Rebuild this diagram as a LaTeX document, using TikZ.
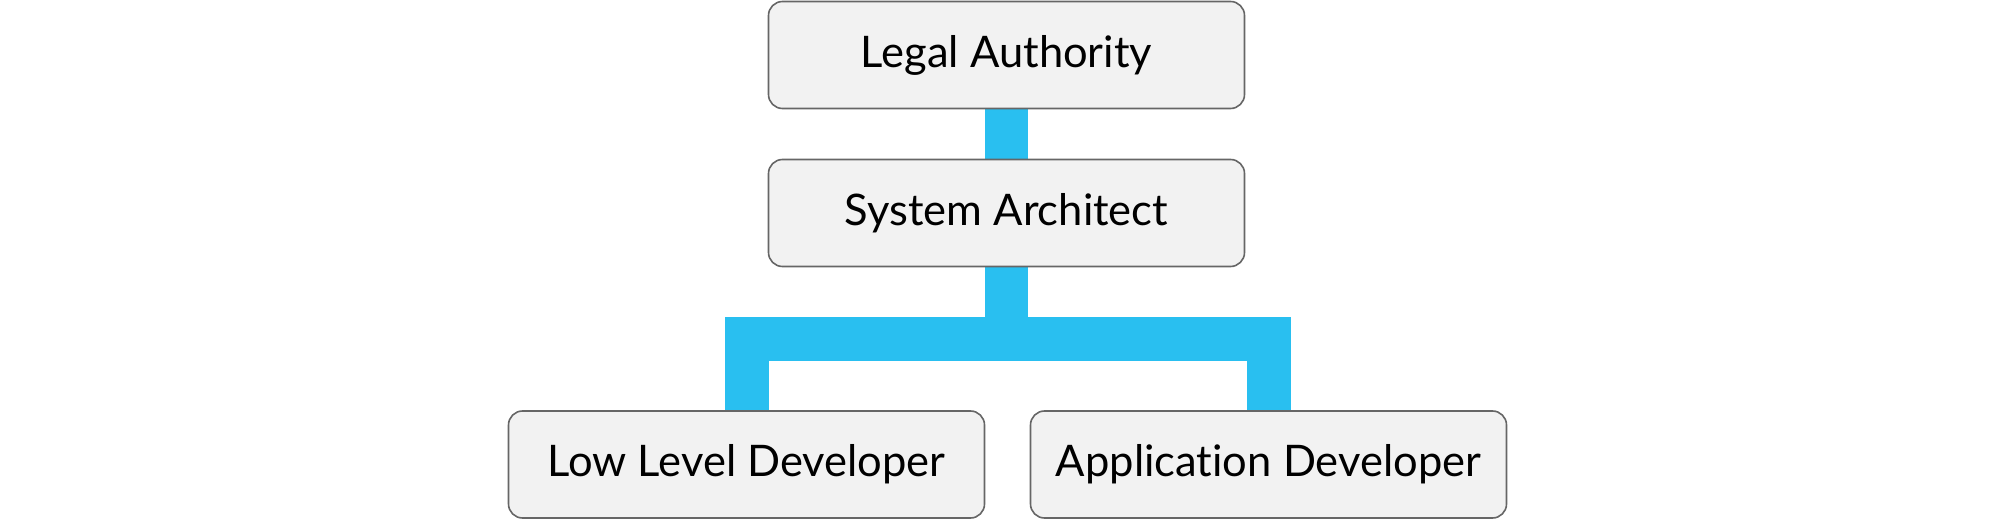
\documentclass[tikz,border=0pt]{standalone}
\usepackage{fontspec}
\setmainfont[Ligatures=NoCommon]{Lato}
\usetikzlibrary{backgrounds}
\definecolor{boxfill}{HTML}{F2F2F2}
\definecolor{boxline}{HTML}{666666}
\definecolor{barblue}{HTML}{29BFF0}
\tikzset{
  rolebox/.style={draw=boxline, fill=boxfill, line width=1.6pt, rounded corners=14pt,
    minimum width=476pt, minimum height=107pt, inner sep=0pt, outer sep=0pt,
    font=\fontsize{43.5}{52}\selectfont},
  bar/.style={draw=barblue, line width=#1},
}
\begin{document}
\begin{tikzpicture}[x=1pt,y=-1pt]
\useasboundingbox (0,0) rectangle (2015,521);
\node[rolebox] (la) at (1006.5,55) {Legal Authority};
\node[rolebox] (sa) at (1006.5,213) {System Architect};
\node[rolebox] (ll) at (746.5,464.5) {Low Level Developer};
\node[rolebox] (ad) at (1268.5,464.5) {Application Developer};
\coordinate (fork) at (1006.5,339);
\begin{scope}[on background layer]
\draw[bar=43pt] (la.south) -- (sa.north);
\draw[bar=43pt] (sa.south) -- (fork);
\draw[bar=44pt] (ll.north) -- (ll.north |- fork) -- (ad.north |- fork) -- (ad.north);
\end{scope}
\end{tikzpicture}
\end{document}
